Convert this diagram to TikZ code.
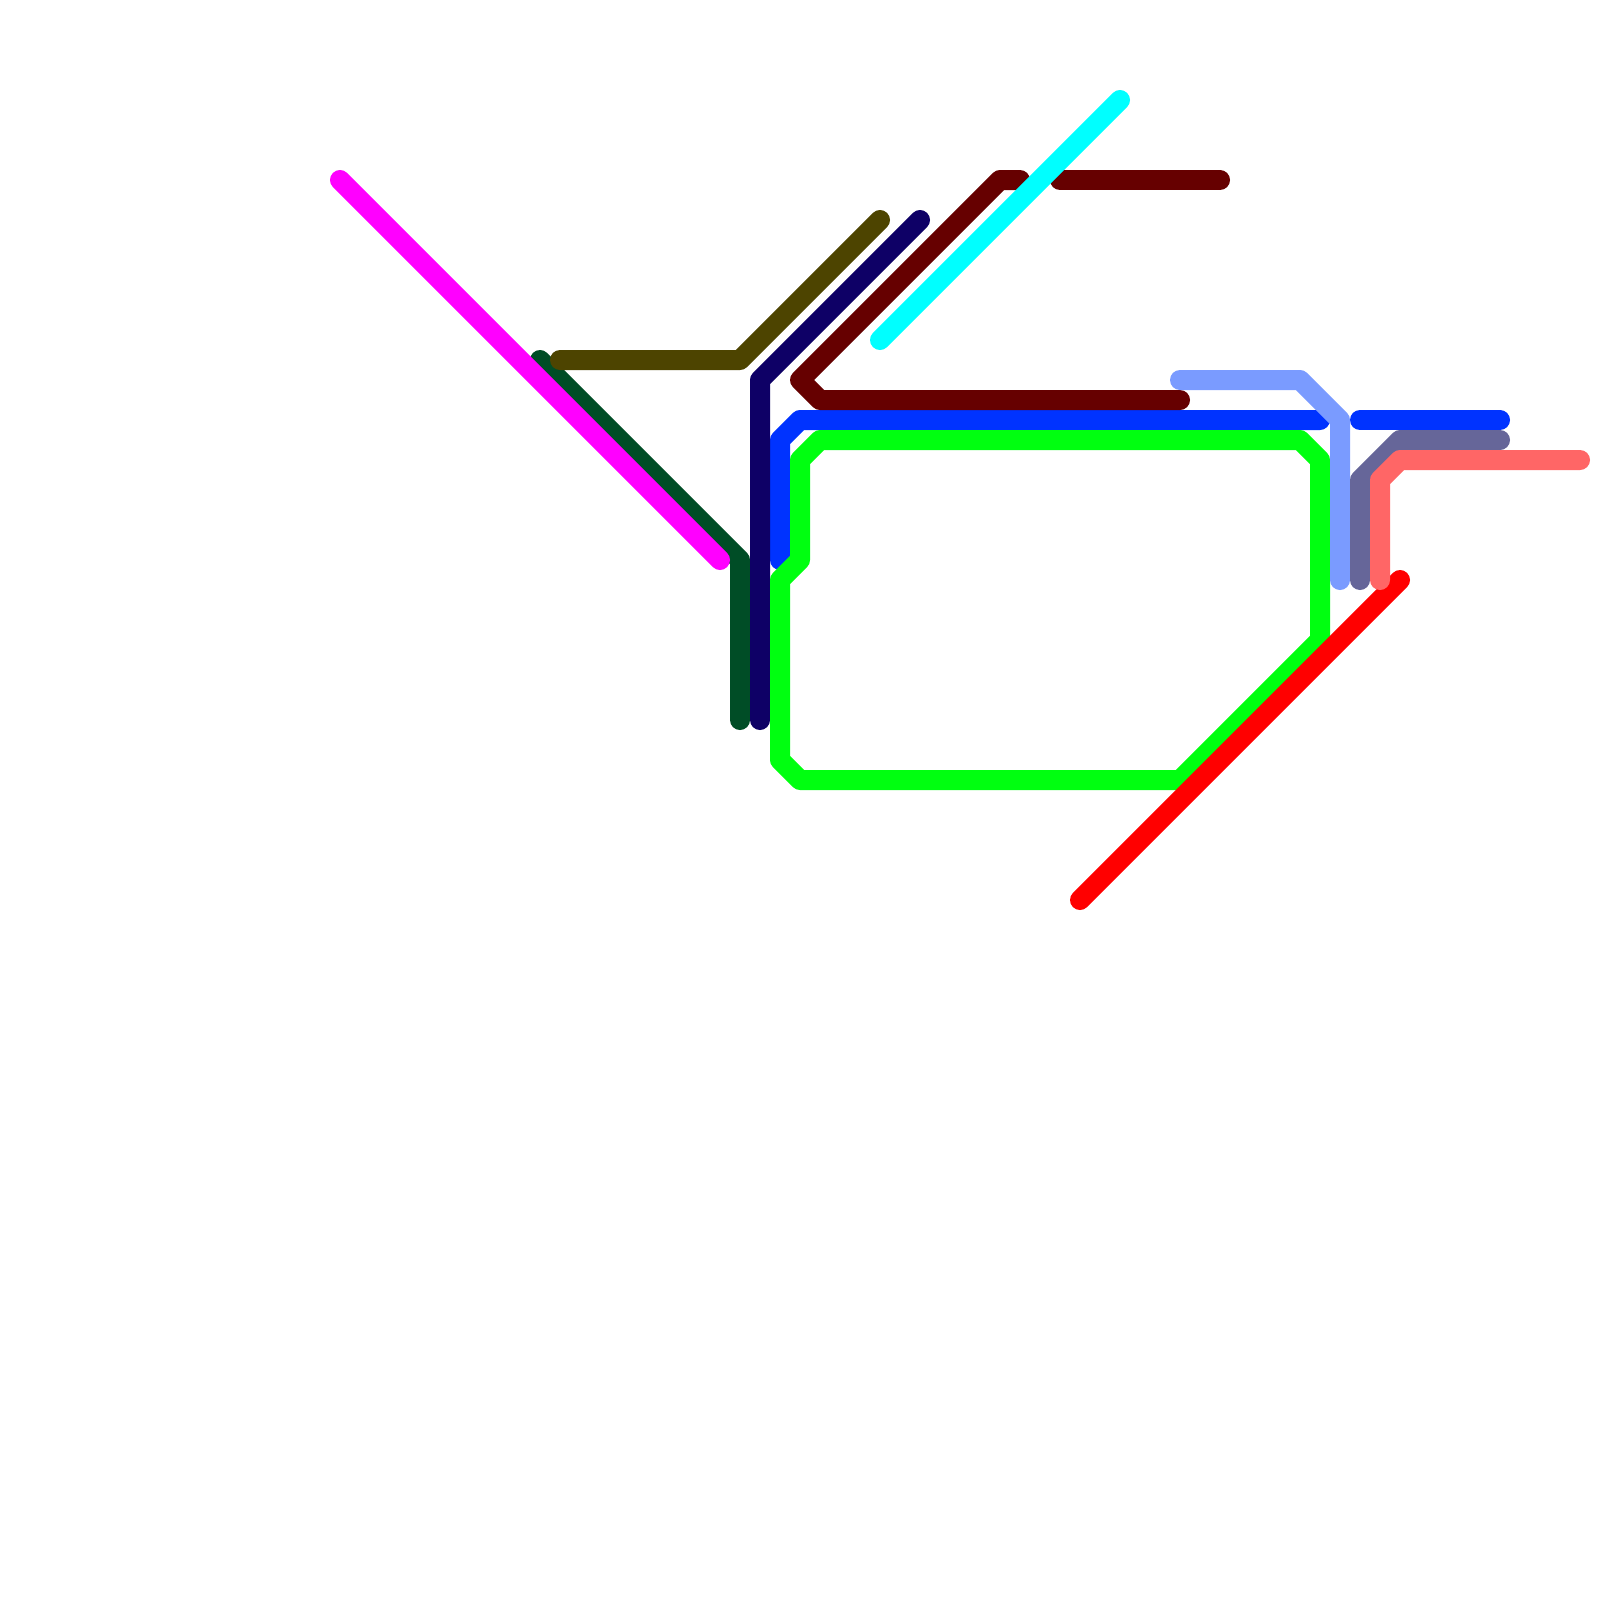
\documentclass[tikz,border=0pt]{standalone}
\definecolor{cdarkgreen}{HTML}{004D26}
\definecolor{colive}{HTML}{4D4400}
\definecolor{cnavy}{HTML}{0E0066}
\definecolor{cdarkred}{HTML}{660000}
\definecolor{cblue}{HTML}{0033FF}
\definecolor{cgreen}{HTML}{00FF10}
\definecolor{clight}{HTML}{7A9BFF}
\definecolor{cgrey}{HTML}{666699}
\definecolor{cpink}{HTML}{FF6666}
\definecolor{cmag}{HTML}{FF00FF}
\definecolor{ccyan}{HTML}{00FFFF}
\definecolor{cred}{HTML}{FF0000}
\tikzset{route/.style={draw=#1,line width=1cm,line cap=round,line join=round}}
\begin{document}
\begin{tikzpicture}[x=0.05cm,y=-0.05cm]
\useasboundingbox[fill=white] (0,0) rectangle (1600,1600);
\path[route=cdarkgreen] (540,360) -- (740,560) -- (740,720);
\path[route=cmag] (340,180) -- (720,560);
\path[route=colive] (560,360) -- (740,360) -- (880,220);
\path[route=cblue] (780,560) -- (780,440) -- (800,420) -- (1320,420);
\path[route=cblue] (1360,420) -- (1500,420);
\path[route=cnavy] (920,220) -- (760,380) -- (760,720);
\path[route=cdarkred] (1020,180) -- (1000,180) -- (800,380) -- (820,400) -- (1180,400);
\path[route=cdarkred] (1060,180) -- (1220,180);
\path[route=ccyan] (1120,100) -- (880,340);
\path[route=cgreen] (1180,780) -- (1320,640) -- (1320,460) -- (1300,440) -- (820,440) -- (800,460) -- (800,560) -- (780,580) -- (780,760) -- (800,780) -- cycle;
\path[route=cred] (1080,900) -- (1400,580);
\path[route=clight] (1180,380) -- (1300,380) -- (1340,420) -- (1340,580);
\path[route=cgrey] (1500,440) -- (1400,440) -- (1360,480) -- (1360,580);
\path[route=cpink] (1580,460) -- (1400,460) -- (1380,480) -- (1380,580);
\end{tikzpicture}
\end{document}
